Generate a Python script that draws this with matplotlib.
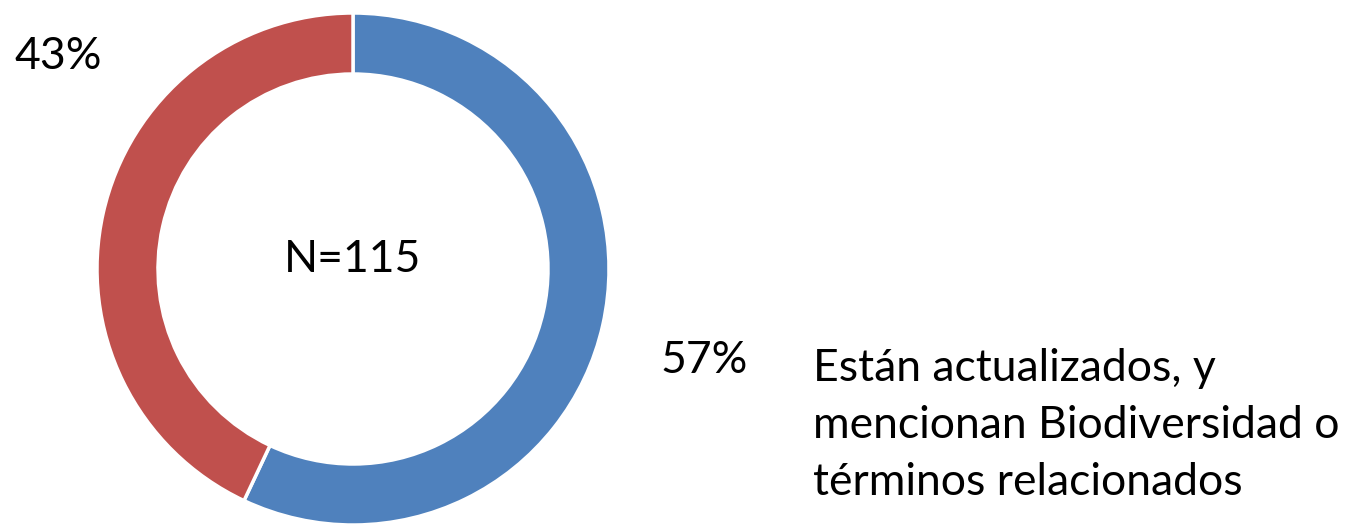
import matplotlib
matplotlib.use("Agg")
import matplotlib.pyplot as plt

# share of documents
labels = ["Están actualizados, y mencionan Biodiversidad o términos relacionados", "Otros"]
shares = [57, 43]
colors = ["#4F81BD", "#C0504D"]
n_total = 115
legend_lines = ["Están actualizados, y", "mencionan Biodiversidad o", "términos relacionados"]

plt.rcParams["font.family"] = ["Lato", "DejaVu Sans"]

fig = plt.figure(figsize=(13.6, 5.26), dpi=100)
ax = fig.add_axes([0, 0, 1, 1])
ax.set_xlim(0, 1360)
ax.set_ylim(0, 526)
ax.axis("off")

cx, cy, r = 353, 257, 256
ax.pie(shares, colors=colors, startangle=90, counterclock=False,
       center=(cx, cy), radius=r, frame=True,
       wedgeprops=dict(width=61, edgecolor="white", linewidth=2.5))
ax.set_xlim(0, 1360)
ax.set_ylim(0, 526)
ax.set_aspect("auto")
ax.axis("off")

fs = 32
ax.text(cx, 254, f"N={n_total}", ha="center", va="baseline", fontsize=fs)
ax.text(14, 457, f"{shares[1]}%", ha="left", va="baseline", fontsize=fs)
ax.text(660, 153, f"{shares[0]}%", ha="left", va="baseline", fontsize=fs)

for i, line in enumerate(legend_lines):
    ax.text(813, 145 - 57 * i, line, ha="left", va="baseline", fontsize=fs)

fig.savefig("out.png", dpi=100, facecolor="white")
